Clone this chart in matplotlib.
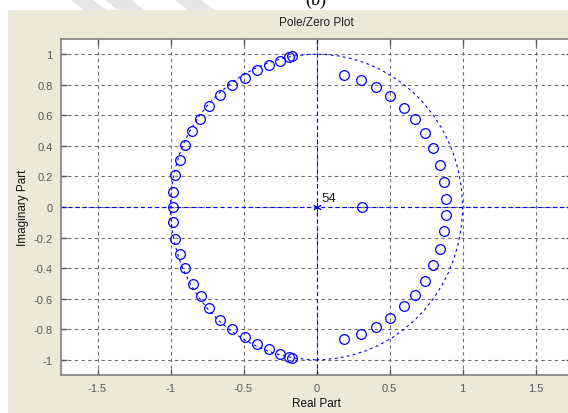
import matplotlib.pyplot as plt
from matplotlib.patches import Circle, Polygon

# zeros (real, imaginary)
ul_re = [-0.165, -0.188, -0.249, -0.323, -0.409, -0.493, -0.578, -0.664,
         -0.735, -0.796, -0.851, -0.899, -0.938, -0.967, -0.985]
ul_im = [0.989, 0.982, 0.954, 0.930, 0.894, 0.846, 0.796, 0.731,
         0.659, 0.579, 0.500, 0.405, 0.309, 0.212, 0.100]
ll_re = [-0.165, -0.188, -0.249, -0.323, -0.409, -0.493, -0.578, -0.664,
         -0.735, -0.794, -0.848, -0.899, -0.938, -0.967, -0.985]
ll_im = [-0.990, -0.981, -0.960, -0.933, -0.897, -0.850, -0.802, -0.737,
         -0.663, -0.581, -0.503, -0.400, -0.309, -0.207, -0.097]
ur_re = [0.190, 0.302, 0.409, 0.502, 0.596, 0.675, 0.744, 0.800, 0.844, 0.872, 0.890]
ur_im = [0.865, 0.831, 0.783, 0.726, 0.650, 0.574, 0.485, 0.385, 0.277, 0.162, 0.051]
lr_re = [0.190, 0.302, 0.409, 0.502, 0.596, 0.675, 0.744, 0.798, 0.844, 0.872, 0.890]
lr_im = [-0.865, -0.831, -0.783, -0.726, -0.650, -0.574, -0.485, -0.381, -0.277, -0.158, -0.053]
real_zeros = [-0.985, 0.31]

pole_re = [0.0]
pole_im = [0.0]
pole_count = "54"

xticks = [-1.5, -1, -0.5, 0, 0.5, 1, 1.5]
xticklabels = ["-1.5", "-1", "-0.5", "0", "0.5", "1", "1.5"]
yticks = [-1, -0.8, -0.6, -0.4, -0.2, 0, 0.2, 0.4, 0.6, 0.8, 1]
yticklabels = ["-1", "-0.8", "-0.6", "-0.4", "-0.2", "0", "0.2", "0.4", "0.6", "0.8", "1"]

plt.rcParams['font.family'] = ['Liberation Sans', 'DejaVu Sans']

W, H = 568, 414
fig = plt.figure(figsize=(W / 100, H / 100), dpi=100, facecolor='white')

# faint watermark stripes in the white strip at the top
for x0, w in [(70, 22), (104, 26), (174, 26)]:
    fig.patches.append(Polygon([(x0 / W, 1), ((x0 + w) / W, 1),
                                ((x0 + w + 14) / W, 1 - 11 / H), ((x0 + 14) / W, 1 - 11 / H)],
                               closed=True, transform=fig.transFigure,
                               facecolor='#e6e6e6', edgecolor='none', zorder=-3))
# beige window background
fig.patches.append(plt.Rectangle((7.5 / W, 0), 1, 1 - 11 / H, transform=fig.transFigure,
                                 facecolor='#ECE9D8', edgecolor='none', zorder=-2))
fig.text(316 / W, 1 - 9 / H, "(b)", family='Liberation Serif', fontsize=13,
         ha='center', va='bottom', color='black')

ax = fig.add_axes([61 / W, 1 - 376 / H, 511 / W, 336 / H])
ax.set_xlim(-1.75, 1.75)
ax.set_ylim(-1.1, 1.1)

ax.grid(True, color='#6e6e6e', linestyle=(0, (3, 3)), linewidth=0.8)
ax.set_axisbelow(True)
ax.axhline(0, color='blue', linestyle=(0, (3.5, 3)), linewidth=0.8, zorder=2)
ax.axvline(0, color='blue', linestyle=(0, (3.5, 3)), linewidth=0.8, zorder=2)
ax.add_patch(Circle((0, 0), 1, fill=False, edgecolor='blue',
                    linestyle=(0, (2.5, 3)), linewidth=0.8, zorder=2))

zstyle = dict(linestyle='none', marker='o', markersize=7, markerfacecolor='none',
              markeredgecolor='blue', markeredgewidth=0.9, zorder=3)
ax.plot(ul_re, ul_im, **zstyle)
ax.plot(ll_re, ll_im, **zstyle)
ax.plot(ur_re, ur_im, **zstyle)
ax.plot(lr_re, lr_im, **zstyle)
ax.plot(real_zeros, [0] * len(real_zeros), **zstyle)
ax.plot(pole_re, pole_im, linestyle='none', marker=(6, 2, 0), markersize=6,
        markeredgecolor='blue', markeredgewidth=0.7, zorder=3)
ax.text(pole_re[0] + 0.035, pole_im[0] + 0.02, pole_count, fontsize=9.5,
        ha='left', va='bottom', color='#222222')

ax.set_xticks(xticks)
ax.set_xticklabels(xticklabels)
ax.set_yticks(yticks)
ax.set_yticklabels(yticklabels)
ax.tick_params(direction='in', length=4, width=1, color='#555555', labelcolor='#5a5a5a',
               labelsize=8, top=True, right=True, pad=6)
for s in ax.spines.values():
    s.set_color('#808080')
    s.set_linewidth(1.2)

ax.set_title("Pole/Zero Plot", fontsize=8.5, color='#222222', pad=10)
ax.set_xlabel("Real Part", fontsize=8.5, color='#111111', labelpad=3)
ax.set_ylabel("Imaginary Part", fontsize=8.5, color='#111111', labelpad=3)

fig.savefig("out.png", dpi=100, facecolor=fig.get_facecolor())
